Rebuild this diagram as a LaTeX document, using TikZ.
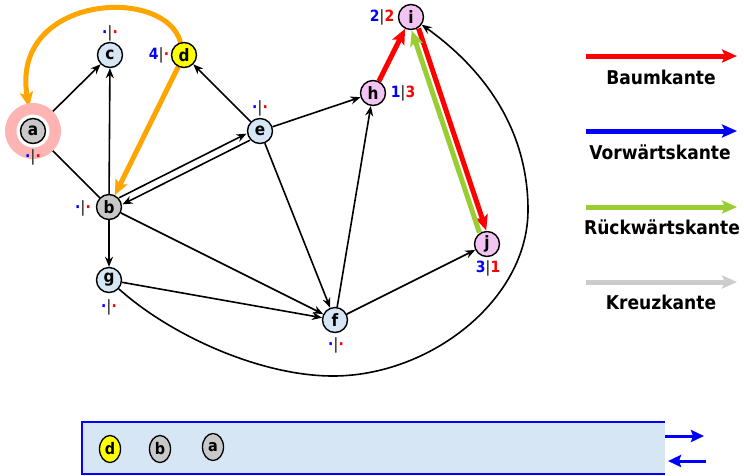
\documentclass[tikz,border=0pt]{standalone}
\usepackage{fontspec}
\setmainfont[FakeStretch=0.9]{DejaVu Sans}
\usetikzlibrary{arrows.meta,calc,shapes.geometric}
\definecolor{nblue}{HTML}{D6E6F5}
\definecolor{ngray}{HTML}{C8C8C8}
\definecolor{nyellow}{HTML}{FFFF00}
\definecolor{npink}{HTML}{F2C4F2}
\definecolor{halo}{HTML}{FFB4B4}
\definecolor{eorange}{HTML}{FFA500}
\definecolor{ered}{HTML}{FF0000}
\definecolor{egreen}{HTML}{9ACD32}
\definecolor{egray}{HTML}{CCCCCC}
\definecolor{eblue}{HTML}{0000FF}
\pgfdeclarelayer{bg}
\pgfsetlayers{bg,main}
\newcommand\bdot{\textcolor{eblue}{·}}
\newcommand\rdot{\textcolor{ered}{·}}
\newcommand\vbar{\textcolor{black!75}{|}}
\newcommand\emptylab{\bdot\vbar\rdot}
\begin{document}
\begin{tikzpicture}[x=1pt,y=-1pt,
  vtx/.style={circle,draw,line width=1.4pt,minimum size=25pt,inner sep=0pt,
    font=\fontsize{17}{17}\selectfont\bfseries},
  lab/.style={inner sep=0pt,font=\fontsize{15.5}{15.5}\selectfont\bfseries},
  edge/.style={line width=1.6pt,-{Stealth[length=10pt,width=8pt]}},
  fat/.style={line width=5pt,-{Stealth[length=15pt,width=13pt,inset=3pt]}},
  legtxt/.style={inner sep=0pt,font=\fontsize{19}{19}\selectfont\bfseries},
  stk/.style={ellipse,draw,line width=1.3pt,minimum width=21pt,minimum height=27pt,inner sep=0pt,
    font=\fontsize{16}{16}\selectfont\bfseries},
  sarrow/.style={draw=eblue,line width=3pt,-{Stealth[length=13pt,width=12pt,inset=2pt]}}
]
\useasboundingbox (0,0) rectangle (744,475);

% halo around a
\fill[halo] (33,131) circle (28);
\fill[white] (33,131) circle (16.5);

% nodes
\node[vtx,fill=ngray] (a) at (33,131) {a};
\node[vtx,fill=nblue] (c) at (110,55) {c};
\node[vtx,fill=nyellow] (d) at (184,55) {d};
\node[vtx,fill=ngray] (b) at (109,207) {b};
\node[vtx,fill=nblue] (e) at (260,131) {e};
\node[vtx,fill=npink] (h) at (373,93) {h};
\node[vtx,fill=npink] (i) at (411,17) {i};
\node[vtx,fill=npink] (j) at (487,244) {j};
\node[vtx,fill=nblue] (g) at (109,280) {g};
\node[vtx,fill=nblue] (f) at (335,320) {f};

% labels
\node[lab] (la) at (33,157) {\emptylab};
\node[lab] (lc) at (110,33) {\emptylab};
\node[lab] (ld) at (159,55) {\textcolor{eblue}{4}\vbar\rdot};
\node[lab] (lb) at (83,208) {\emptylab};
\node[lab] (le) at (260,108) {\emptylab};
\node[lab] (lh) at (403,93) {\textcolor{eblue}{1}\vbar\textcolor{ered}{3}};
\node[lab] (li) at (382,17) {\textcolor{eblue}{2}\vbar\textcolor{ered}{2}};
\node[lab] (lj) at (488,268) {\textcolor{eblue}{3}\vbar\textcolor{ered}{1}};
\node[lab] (lg) at (109,307) {\emptylab};
\node[lab] (lf) at (336,345) {\emptylab};

\begin{pgfonlayer}{bg}
% black edges
\draw[line width=1.6pt] (a) -- (b);
\draw[edge] (a) -- (c);
\draw[edge] (b) -- (c);
\draw[edge] (e) -- (d);
\draw[edge,transform canvas={xshift=-1.7pt,yshift=3.3pt}] (b) -- (e);
\draw[edge,transform canvas={xshift=1.7pt,yshift=-3.3pt}] (e) -- (b);
\draw[edge] (e) -- (h);
\draw[edge] (e) -- (f);
\draw[edge] (b) -- (f);
\draw[edge] (b) -- (g);
\draw[edge] (g) -- (f);
\draw[edge] (f) -- (h);
\draw[edge] (f) -- (j);
\draw[edge] (g) .. controls (170,335) and (260,376) .. (333,376)
  .. controls (430,376) and (528,300) .. (528,210)
  .. controls (528,130) and (485,70) .. (i);
% coloured edges
\draw[fat,draw=eorange,shorten >=11pt] (d) .. controls (165,-15) and (10,-5) .. (a);
\draw[fat,draw=eorange] (d) -- (b);
\draw[fat,draw=ered] (h) -- (i);
\draw[fat,draw=ered,transform canvas={xshift=3.4pt,yshift=1.1pt}] (i) -- (j);
\draw[fat,draw=egreen,transform canvas={xshift=-3.4pt,yshift=-1.1pt}] (j) -- (i);
\end{pgfonlayer}

% legend
\coordinate (r0) at (586,56); \coordinate (r1) at (737,56);
\coordinate (b0) at (586,131); \coordinate (b1) at (737,131);
\coordinate (g0) at (586,207); \coordinate (g1) at (737,207);
\coordinate (k0) at (586,282); \coordinate (k1) at (737,282);
\draw[fat,draw=ered] (r0) -- (r1);
\draw[fat,draw=eblue] (b0) -- (b1);
\draw[fat,draw=egreen] (g0) -- (g1);
\draw[fat,draw=egray] (k0) -- (k1);
\node[legtxt] (tb) at (661,77) {Baumkante};
\node[legtxt] (tv) at (660,152) {Vorwärtskante};
\node[legtxt] (tr) at (662,227) {Rückwärtskante};
\node[legtxt] (tk) at (661,302) {Kreuzkante};

% stack
\fill[nblue] (82,422) rectangle (665,475);
\draw[eblue,line width=2.2pt] (665,422) -- (82,422) -- (82,474) -- (665,474);
\node[stk,fill=nyellow] (sd) at (110,449) {d};
\node[stk,fill=ngray] (sb) at (160,449) {b};
\node[stk,fill=ngray] (sa) at (213,447) {a};
\coordinate (p0) at (665,436); \coordinate (p1) at (704,436);
\coordinate (q0) at (706,461); \coordinate (q1) at (668,461);
\draw[sarrow] (p0) -- (p1);
\draw[sarrow] (q0) -- (q1);
\end{tikzpicture}
\end{document}
